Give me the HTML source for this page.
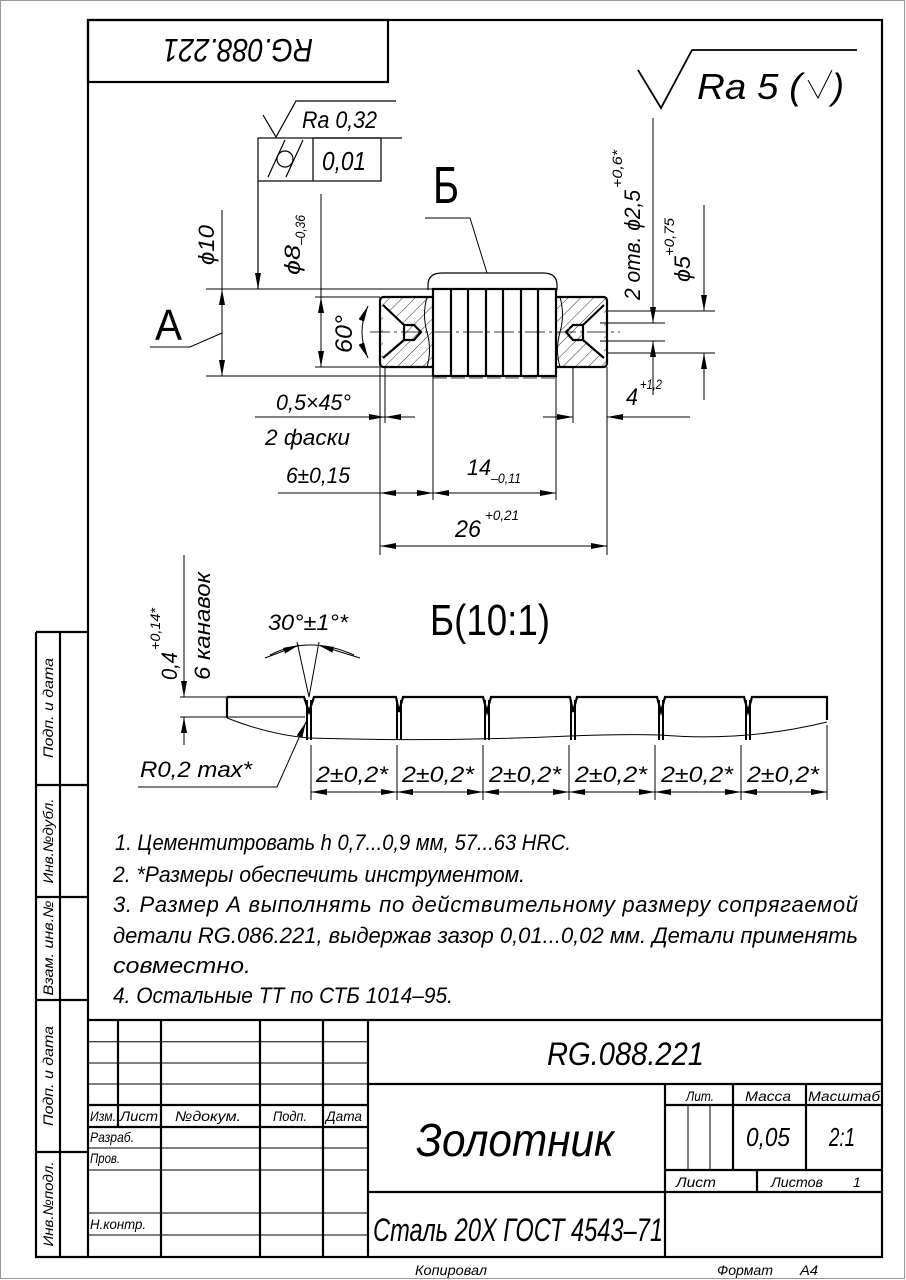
<!DOCTYPE html>
<html><head><meta charset="utf-8"><style>
html,body{margin:0;padding:0;background:#fff;}
svg{display:block;}
text{font-family:"Liberation Sans","DejaVu Sans",sans-serif;font-style:italic;fill:#000;}
text.n{font-style:normal;}
</style></head><body>
<svg width="906" height="1280" viewBox="0 0 906 1280" xmlns="http://www.w3.org/2000/svg">
<defs>
<marker id="a" viewBox="0 0 16 6" refX="16" refY="3" markerWidth="16" markerHeight="6" markerUnits="userSpaceOnUse" orient="auto-start-reverse"><path d="M0,0 L16,3 L0,6 z" fill="#000"/></marker>
<pattern id="h" width="9" height="9" patternUnits="userSpaceOnUse" patternTransform="rotate(45)"><line x1="0" y1="0" x2="0" y2="9" stroke="#000" stroke-width="0.8"/></pattern>
</defs>
<rect x="0" y="0" width="906" height="1280" fill="#fff"/>
<rect x="0.5" y="0.5" width="904" height="1278" fill="none" stroke="#999" stroke-width="1"/>

<!-- main frame -->
<g fill="none" stroke="#000" stroke-width="2.2">
<rect x="88" y="20" width="794" height="1237"/>
<rect x="88" y="20" width="300" height="62"/>
<path d="M36,632 H88 M36,632 V1257 H88 M60,632 V1257 M36,785 H88 M36,897 H88 M36,1000 H88 M36,1152 H88"/>
</g>
<text x="238" y="63" font-size="32" text-anchor="middle" transform="rotate(180 238 51)" textLength="150" lengthAdjust="spacingAndGlyphs">RG.088.221</text>

<!-- left strip labels -->
<g font-size="14">
<text transform="translate(53 708) rotate(-90)" text-anchor="middle" textLength="100" lengthAdjust="spacingAndGlyphs">Подп. и дата</text>
<text transform="translate(53 841) rotate(-90)" text-anchor="middle" textLength="85" lengthAdjust="spacingAndGlyphs">Инв.№дубл.</text>
<text transform="translate(53 948) rotate(-90)" text-anchor="middle" textLength="95" lengthAdjust="spacingAndGlyphs">Взам. инв.№</text>
<text transform="translate(53 1076) rotate(-90)" text-anchor="middle" textLength="100" lengthAdjust="spacingAndGlyphs">Подп. и дата</text>
<text transform="translate(53 1204) rotate(-90)" text-anchor="middle" textLength="85" lengthAdjust="spacingAndGlyphs">Инв.№подл.</text>
</g>

<!-- roughness top right -->
<path d="M638,70 L661,108 L692,50 H857" fill="none" stroke="#000" stroke-width="1.8"/>
<text x="697" y="99" font-size="36" textLength="105" lengthAdjust="spacingAndGlyphs">Ra 5 (</text>
<path d="M808,80 L818,98 L832,70" fill="none" stroke="#000" stroke-width="1"/>
<text x="832" y="99" font-size="36">)</text>

<!-- FCF and Ra 0.32 -->
<g fill="none" stroke="#000" stroke-width="1.2">
<path d="M263,115 L276,137 L296,101 H396"/>
<path d="M313,138 H402"/>
<rect x="258" y="138" width="123" height="43"/>
<line x1="313" y1="138" x2="313" y2="181"/>
<circle cx="285" cy="159" r="8"/>
<path d="M268,177 L285,140 M286,177 L303,140"/>
<line x1="258" y1="181" x2="258" y2="289" marker-end="url(#a)"/>
</g>
<text x="302" y="128" font-size="24" textLength="75" lengthAdjust="spacingAndGlyphs">Ra 0,32</text>
<text x="322" y="170" font-size="26" textLength="44" lengthAdjust="spacingAndGlyphs">0,01</text>

<!-- B callout -->
<text class="n" x="433" y="203" font-size="52" textLength="26" lengthAdjust="spacingAndGlyphs">Б</text>
<path d="M425,218 H470 L487,273" fill="none" stroke="#000" stroke-width="1"/>
<path d="M428,290 V285 Q428,273 442,273 H543 Q557,273 557,285 V290" fill="none" stroke="#000" stroke-width="1.2"/>

<!-- part -->
<g>
<path d="M380,297 H433 V367 H380 Z" fill="url(#h)"/>
<path d="M556,297 H607 V367 H556 Z" fill="url(#h)"/>
<path d="M383,305 L404,325 V340 L383,358 Z" fill="#fff"/>
<path d="M604,305 L583,325 V340 L604,358 Z" fill="#fff"/>
<g fill="none" stroke="#000" stroke-width="2.2">
<path d="M384,297 H433 M433,367 H384 Q380,367 380,363 V301 Q380,297 384,297"/>
<path d="M556,297 H603 Q607,297 607,301 V363 Q607,367 603,367 H556"/>
<rect x="433" y="289" width="123" height="87"/>
<path d="M451,289 V376 M468,289 V376 M486,289 V376 M503,289 V376 M521,289 V376 M538,289 V376"/>
<path d="M383,305 L404,325 M383,358 L404,340 M404,325 V340 H414 L421,332 L414,325 Z"/>
<path d="M604,305 L583,325 M604,358 L583,340 M583,325 V340 H573 L566,332 L573,325 Z"/>
</g>
<path d="M427,297 Q422,315 427,332 Q432,350 427,367 M560,297 Q565,315 560,332 Q555,350 560,367" fill="none" stroke="#000" stroke-width="1"/>
<path d="M370,332 H620" stroke="#000" stroke-width="0.8" stroke-dasharray="20,4,3,4"/>
<path d="M433,378 H556" stroke="#000" stroke-width="0.8" stroke-dasharray="14,4"/>
</g>

<!-- dims left -->
<g fill="none" stroke="#000" stroke-width="1">
<path d="M206,289 H433 M206,376 H433"/>
<line x1="222" y1="210" x2="222" y2="289"/>
<line x1="222" y1="330" x2="222" y2="289" marker-end="url(#a)"/>
<line x1="222" y1="330" x2="222" y2="376" marker-end="url(#a)"/>
<path d="M150,347 H190 L222,333"/>
<path d="M315,297 H380 M315,367 H380"/>
<line x1="321" y1="194" x2="321" y2="297"/>
<line x1="321" y1="332" x2="321" y2="297" marker-end="url(#a)"/>
<line x1="321" y1="332" x2="321" y2="367" marker-end="url(#a)"/>
<path d="M368,306 Q356,332 368,358" marker-start="url(#a)" marker-end="url(#a)"/>
<path d="M380,367 V555 M607,367 V555 M433,376 V500 M556,376 V500 M385,367 V423 M573,367 V423"/>
<line x1="255" y1="417" x2="385" y2="417" marker-end="url(#a)"/>
<line x1="415" y1="417" x2="385" y2="417" marker-end="url(#a)"/>
<line x1="543" y1="417" x2="573" y2="417" marker-end="url(#a)"/>
<line x1="690" y1="417" x2="607" y2="417" marker-end="url(#a)"/>
<line x1="278" y1="493" x2="380" y2="493"/>
<line x1="406" y1="493" x2="380" y2="493" marker-end="url(#a)"/>
<line x1="406" y1="493" x2="433" y2="493" marker-end="url(#a)"/>
<line x1="494" y1="493" x2="433" y2="493" marker-end="url(#a)"/>
<line x1="494" y1="493" x2="556" y2="493" marker-end="url(#a)"/>
<line x1="494" y1="546" x2="380" y2="546" marker-end="url(#a)"/>
<line x1="494" y1="546" x2="607" y2="546" marker-end="url(#a)"/>
<path d="M607,311 H715 M600,323 H665 M600,341 H665 M607,353 H715"/>
<line x1="653" y1="118" x2="653" y2="323" marker-end="url(#a)"/>
<line x1="653" y1="395" x2="653" y2="341" marker-end="url(#a)"/>
<line x1="704" y1="205" x2="704" y2="311" marker-end="url(#a)"/>
<line x1="704" y1="400" x2="704" y2="353" marker-end="url(#a)"/>
</g>
<text class="n" x="155" y="340" font-size="44" textLength="27" lengthAdjust="spacingAndGlyphs">A</text>
<text transform="translate(214 265) rotate(-90)" font-size="22" textLength="40" lengthAdjust="spacingAndGlyphs">ϕ10</text>
<text transform="translate(300 275) rotate(-90)" font-size="22" textLength="30" lengthAdjust="spacingAndGlyphs">ϕ8</text>
<text transform="translate(305 245) rotate(-90)" font-size="14" textLength="30" lengthAdjust="spacingAndGlyphs">–0,36</text>
<text transform="translate(352 353) rotate(-90)" font-size="24" textLength="38" lengthAdjust="spacingAndGlyphs">60°</text>
<text x="276" y="410" font-size="22" textLength="75" lengthAdjust="spacingAndGlyphs">0,5×45°</text>
<text x="265" y="445" font-size="22" textLength="85" lengthAdjust="spacingAndGlyphs">2 фаски</text>
<text x="286" y="483" font-size="22" textLength="64" lengthAdjust="spacingAndGlyphs">6±0,15</text>
<text x="467" y="475" font-size="22" textLength="24" lengthAdjust="spacingAndGlyphs">14</text>
<text x="491" y="483" font-size="14" textLength="30" lengthAdjust="spacingAndGlyphs">–0,11</text>
<text x="455" y="537" font-size="24" textLength="26" lengthAdjust="spacingAndGlyphs">26</text>
<text x="485" y="520" font-size="14" textLength="34" lengthAdjust="spacingAndGlyphs">+0,21</text>
<text x="626" y="405" font-size="24" textLength="12" lengthAdjust="spacingAndGlyphs">4</text>
<text x="640" y="389" font-size="14" textLength="22" lengthAdjust="spacingAndGlyphs">+1,2</text>
<text transform="translate(640 300) rotate(-90)" font-size="22" textLength="110" lengthAdjust="spacingAndGlyphs">2 отв. ϕ2,5</text>
<text transform="translate(622 188) rotate(-90)" font-size="14" textLength="38" lengthAdjust="spacingAndGlyphs">+0,6*</text>
<text transform="translate(690 282) rotate(-90)" font-size="22" textLength="26" lengthAdjust="spacingAndGlyphs">ϕ5</text>
<text transform="translate(674 256) rotate(-90)" font-size="14" textLength="38" lengthAdjust="spacingAndGlyphs">+0,75</text>

<!-- detail B -->
<text class="n" x="430" y="635" font-size="44" textLength="120" lengthAdjust="spacingAndGlyphs">Б(10:1)</text>
<g fill="none" stroke="#000">
<path stroke-width="2.2" d="M227,697 H304 L309,712 L314,697 H396 L399,712 L403,697 H483 L487,712 L491,697 H570 L573,712 L577,697 H657 L661,712 L665,697 H744 L748,712 L752,697 H827 V720"/>
<path stroke-width="2.2" d="M227,697 V718"/>
<path stroke-width="1" d="M227,718 Q270,735 309,738 Q440,742 570,736 Q620,734 660,735 Q745,742 827,722"/>
<path stroke-width="2" d="M307,700 V740 M311,700 V740 M397,700 V740 M401,700 V740 M485,700 V740 M489,700 V740 M571,700 V740 M575,700 V740 M659,700 V740 M663,700 V740 M746,700 V740 M750,700 V740"/>
<path stroke-width="1" d="M180,697 H227 M180,717 H305"/>
<line stroke-width="1" x1="184" y1="555" x2="184" y2="697" marker-end="url(#a)"/>
<line stroke-width="1" x1="184" y1="745" x2="184" y2="717" marker-end="url(#a)"/>
<path stroke-width="1" d="M309,697 L297,642 M309,697 L319,642"/>
<path stroke-width="1" d="M270,655 Q309,635 354,655"/>
<line stroke-width="1" x1="265" y1="658" x2="299" y2="645" marker-end="url(#a)"/>
<line stroke-width="1" x1="360" y1="658" x2="318" y2="645" marker-end="url(#a)"/>
<path stroke-width="1" d="M138,787 H277 L306,722" marker-end="url(#a)"/>
<path stroke-width="1" d="M311,745 V800 M397,745 V800 M483,745 V800 M569,745 V800 M655,745 V800 M741,745 V800 M827,725 V800"/>
<g stroke-width="1">
<line x1="354" y1="792" x2="311" y2="792" marker-end="url(#a)"/><line x1="354" y1="792" x2="397" y2="792" marker-end="url(#a)"/>
<line x1="440" y1="792" x2="397" y2="792" marker-end="url(#a)"/><line x1="440" y1="792" x2="483" y2="792" marker-end="url(#a)"/>
<line x1="526" y1="792" x2="483" y2="792" marker-end="url(#a)"/><line x1="526" y1="792" x2="569" y2="792" marker-end="url(#a)"/>
<line x1="612" y1="792" x2="569" y2="792" marker-end="url(#a)"/><line x1="612" y1="792" x2="655" y2="792" marker-end="url(#a)"/>
<line x1="698" y1="792" x2="655" y2="792" marker-end="url(#a)"/><line x1="698" y1="792" x2="741" y2="792" marker-end="url(#a)"/>
<line x1="784" y1="792" x2="741" y2="792" marker-end="url(#a)"/><line x1="784" y1="792" x2="827" y2="792" marker-end="url(#a)"/>
</g>
</g>
<g font-size="22">
<text x="316" y="782" textLength="72" lengthAdjust="spacingAndGlyphs">2±0,2*</text>
<text x="402" y="782" textLength="72" lengthAdjust="spacingAndGlyphs">2±0,2*</text>
<text x="489" y="782" textLength="72" lengthAdjust="spacingAndGlyphs">2±0,2*</text>
<text x="575" y="782" textLength="72" lengthAdjust="spacingAndGlyphs">2±0,2*</text>
<text x="661" y="782" textLength="72" lengthAdjust="spacingAndGlyphs">2±0,2*</text>
<text x="747" y="782" textLength="72" lengthAdjust="spacingAndGlyphs">2±0,2*</text>
<text x="140" y="777" textLength="112" lengthAdjust="spacingAndGlyphs">R0,2 max*</text>
<text x="268" y="630" textLength="80" lengthAdjust="spacingAndGlyphs">30°±1°*</text>
</g>
<text transform="translate(177 680) rotate(-90)" font-size="22" textLength="28" lengthAdjust="spacingAndGlyphs">0,4</text>
<text transform="translate(160 650) rotate(-90)" font-size="14" textLength="42" lengthAdjust="spacingAndGlyphs">+0,14*</text>
<text transform="translate(210 680) rotate(-90)" font-size="22" textLength="108" lengthAdjust="spacingAndGlyphs">6 канавок</text>

<!-- notes -->
<g font-size="22">
<text x="115" y="850" textLength="456" lengthAdjust="spacingAndGlyphs">1. Цементитровать h 0,7...0,9 мм, 57...63 HRC.</text>
<text x="113" y="882" textLength="412" lengthAdjust="spacingAndGlyphs">2.  *Размеры обеспечить инструментом.</text>
<text x="113" y="912" textLength="745" lengthAdjust="spacing">3. Размер А выполнять по действительному размеру сопрягаемой</text>
<text x="113" y="943" textLength="745" lengthAdjust="spacing">детали RG.086.221, выдержав зазор 0,01...0,02 мм. Детали применять</text>
<text x="113" y="973" textLength="138" lengthAdjust="spacingAndGlyphs">совместно.</text>
<text x="113" y="1003" textLength="340" lengthAdjust="spacingAndGlyphs">4. Остальные ТТ по СТБ 1014–95.</text>
</g>

<!-- title block -->
<g fill="none" stroke="#000">
<path stroke-width="2.2" d="M88,1020 H882 M118,1020 V1127 M161,1020 V1257 M260,1020 V1257 M323,1020 V1257 M368,1020 V1257 M88,1105 H368 M88,1127 H368 M368,1084 H882 M665,1084 V1257 M368,1192 H882 M665,1105 H882 M733,1084 V1170 M806,1084 V1170 M665,1170 H882 M757,1170 V1192"/>
<path stroke-width="1" d="M88,1041.7 H368 M88,1063 H368 M88,1084 H368 M88,1148 H368 M88,1170 H368 M88,1213 H368 M88,1235 H368 M688,1105 V1170 M710,1105 V1170"/>
</g>
<g font-size="14">
<text x="90" y="1121" textLength="26" lengthAdjust="spacingAndGlyphs">Изм.</text>
<text x="120" y="1121" textLength="38" lengthAdjust="spacingAndGlyphs">Лист</text>
<text x="175" y="1121" textLength="66" lengthAdjust="spacingAndGlyphs">№докум.</text>
<text x="273" y="1121" textLength="34" lengthAdjust="spacingAndGlyphs">Подп.</text>
<text x="326" y="1121" textLength="36" lengthAdjust="spacingAndGlyphs">Дата</text>
<text x="90" y="1142" textLength="44" lengthAdjust="spacingAndGlyphs">Разраб.</text>
<text x="90" y="1163" textLength="30" lengthAdjust="spacingAndGlyphs">Пров.</text>
<text x="90" y="1229" textLength="56" lengthAdjust="spacingAndGlyphs">Н.контр.</text>
<text x="686" y="1101" textLength="28" lengthAdjust="spacingAndGlyphs">Лит.</text>
<text x="745" y="1101" textLength="46" lengthAdjust="spacingAndGlyphs">Масса</text>
<text x="808" y="1101" textLength="72" lengthAdjust="spacingAndGlyphs">Масштаб</text>
<text x="676" y="1187" textLength="40" lengthAdjust="spacingAndGlyphs">Лист</text>
<text x="771" y="1187" textLength="52" lengthAdjust="spacingAndGlyphs">Листов</text>
<text x="853" y="1187">1</text>
<text x="415" y="1275" textLength="72" lengthAdjust="spacingAndGlyphs">Копировал</text>
<text x="717" y="1275" textLength="56" lengthAdjust="spacingAndGlyphs">Формат</text>
<text x="800" y="1275" textLength="18" lengthAdjust="spacingAndGlyphs">A4</text>
</g>
<text x="547" y="1065" font-size="32" textLength="157" lengthAdjust="spacingAndGlyphs">RG.088.221</text>
<text x="416" y="1156" font-size="46" textLength="198" lengthAdjust="spacingAndGlyphs">Золотник</text>
<text x="746" y="1146" font-size="26" textLength="44" lengthAdjust="spacingAndGlyphs">0,05</text>
<text x="829" y="1146" font-size="26" textLength="26" lengthAdjust="spacingAndGlyphs">2:1</text>
<text x="373" y="1241" font-size="32" textLength="290" lengthAdjust="spacingAndGlyphs">Сталь 20Х ГОСТ 4543–71</text>
</svg>
</body></html>
